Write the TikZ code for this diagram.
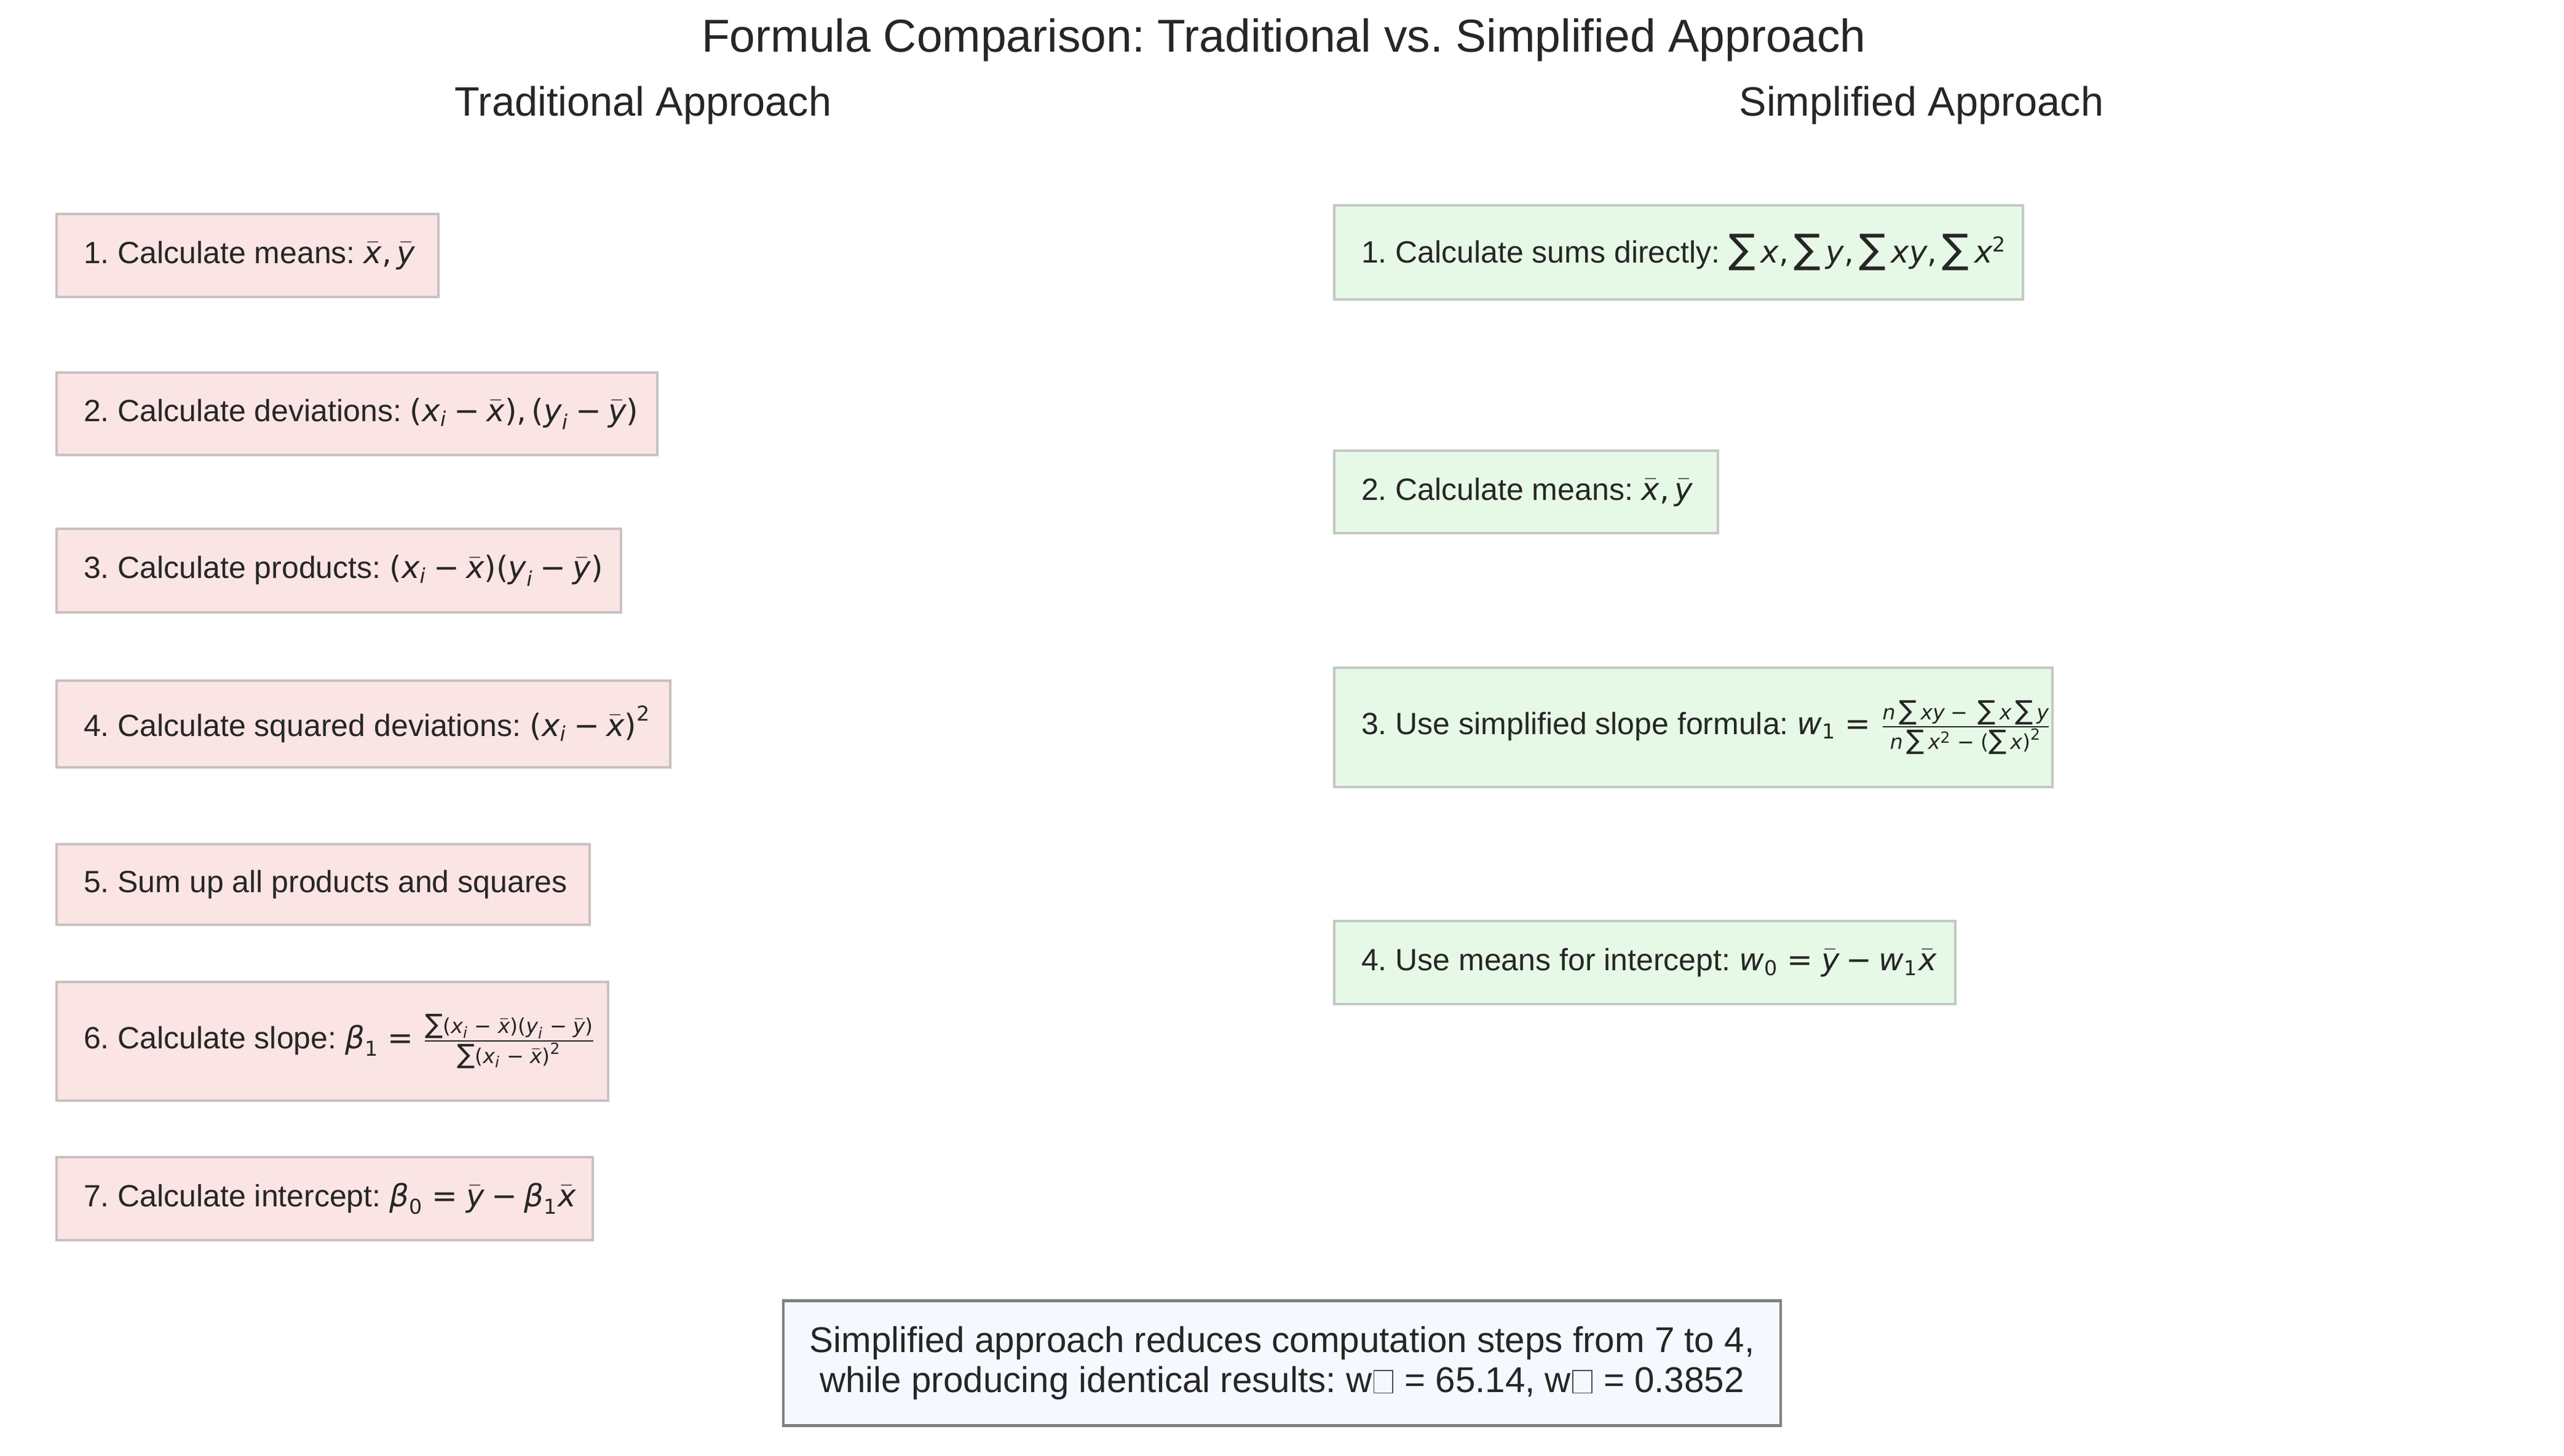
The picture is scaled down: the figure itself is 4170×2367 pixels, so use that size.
\documentclass[tikz,border=0pt]{standalone}
\usepackage{amsmath}
\usepackage{fontspec}
\setmainfont{Liberation Sans}
\newfontfamily\dvs{DejaVu Sans}[ItalicFont={DejaVu Sans Oblique}]
\frenchspacing
\definecolor{txt}{HTML}{262626}
\definecolor{lfill}{HTML}{FBE4E4}
\definecolor{lborder}{HTML}{C9C0C0}
\definecolor{rfill}{HTML}{E6F9E6}
\definecolor{rborder}{HTML}{C3C8C3}
\definecolor{bfill}{HTML}{F5F9FF}
\definecolor{bborder}{HTML}{808080}
\newcommand\mv[1]{\text{\dvs\itshape #1}}
\newcommand\mn[1]{\text{\dvs\upshape #1}}
\newcommand\msum{\mathop{\text{\dvs\upshape\scalebox{1.3}{∑}}}\nolimits}
\newcommand\mminus{\mathbin{\text{\dvs\upshape −}}}
\newcommand\fminus{\mskip5mu\mathord{\text{\dvs\upshape −}}\mskip5mu}
\newcommand\meq{\mathrel{\text{\dvs\upshape =}}}
\newcommand\mcomma{\mathpunct{\text{\dvs\upshape ,}}}
\newcommand\lp{\mathopen{\text{\dvs\upshape (}}}
\newcommand\rp{\mathclose{\text{\dvs\upshape )}}}
\newcommand\xb{\bar{\mv{x}}}
\newcommand\yb{\bar{\mv{y}}}
\newcommand\xsi{\mv{x}_{\mv{i}}}
\newcommand\ysi{\mv{y}_{\mv{i}}}
\newcommand\lt[2]{\makebox[#1][l]{#2}}
\newcommand\tofu{\kern0.04em{\color{black!70}\setlength\fboxsep{0pt}\setlength\fboxrule{0.35pt}\fbox{\rule{0pt}{0.6em}\hspace{0.5em}}}\kern0.04em}
\tikzset{
  x=0.24pt, y=-0.24pt,
  lbox/.style={draw=lborder, fill=lfill, line width=1pt, anchor=north west,
    inner xsep=10.56pt, inner ysep=0pt, font=\fontsize{12}{14.4}\selectfont, text=txt},
  rbox/.style={lbox, draw=rborder, fill=rfill},
  notebox/.style={draw=bborder, fill=bfill, line width=1pt, align=center,
    inner sep=0pt, font=\fontsize{14}{15.6}\selectfont, text=txt},
  ttl/.style={anchor=base, text=txt, inner sep=0pt}
}
\begin{document}
\begin{tikzpicture}
\useasboundingbox (0,0) rectangle (4170,2367);
\node[ttl, font=\fontsize{18}{21.6}\selectfont] (title) at (2088,85) {Formula Comparison: Traditional vs. Simplified Approach};
\node[ttl, font=\fontsize{16}{19.2}\selectfont] (trad) at (1046,189) {Traditional Approach};
\node[ttl, font=\fontsize{16}{19.2}\selectfont] (simp) at (3125,189) {Simplified Approach};

\node[lbox, minimum height=32.4pt] (l1) at (90,346) {\lt{127.92pt}{1. Calculate means: $\xb\mcomma\yb$}};
\node[lbox, minimum height=32.16pt] (l2) at (90,604) {\lt{213.36pt}{2. Calculate deviations: $\lp\xsi\mminus\xb\rp\mcomma\lp\ysi\mminus\yb\rp$}};
\node[lbox, minimum height=32.64pt] (l3) at (90,858) {\lt{199.2pt}{3. Calculate products: $\lp\xsi\mminus\xb\rp\lp\ysi\mminus\yb\rp$}};
\node[lbox, minimum height=33.84pt] (l4) at (90,1105) {\lt{218.4pt}{4. Calculate squared deviations: $\lp\xsi\mminus\xb\rp^{\mn{2}}$}};
\node[lbox, minimum height=31.44pt] (l5) at (90,1371) {\lt{186.96pt}{5. Sum up all products and squares}};
\node[lbox, minimum height=46.32pt] (l6) at (90,1595) {\lt{194.16pt}{6. Calculate slope: $\mv{β}_{\mn{1}}\meq\frac{\msum\lp\xsi\fminus\xb\rp\lp\ysi\fminus\yb\rp}{\msum\lp\xsi\fminus\xb\rp^{\mn{2}}}$}};
\node[lbox, minimum height=32.4pt] (l7) at (90,1880) {\lt{188.16pt}{7. Calculate intercept: $\mv{β}_{\mn{0}}\meq\yb\mminus\mv{β}_{\mn{1}}\xb$}};

\node[rbox, minimum height=36.72pt] (r1) at (2168,332) {\lt{247.68pt}{1. Calculate sums directly: $\msum\mv{x}\mcomma\msum\mv{y}\mcomma\msum\mv{xy}\mcomma\msum\mv{x}^{\mn{2}}$}};
\node[rbox, minimum height=32.16pt] (r2) at (2168,731) {\lt{128.64pt}{2. Calculate means: $\xb\mcomma\yb$}};
\node[rbox, minimum height=46.56pt] (r3) at (2168,1084) {\lt{259.2pt}{3. Use simplified slope formula: $\mv{w}_{\mn{1}}\meq\frac{\mv{n}\msum\mv{xy}\fminus\msum\mv{x}\msum\mv{y}}{\mv{n}\msum\mv{x}^{\mn{2}}\fminus\lp\msum\mv{x}\rp^{\mn{2}}}$}};
\node[rbox, minimum height=32.4pt] (r4) at (2168,1496) {\lt{221.28pt}{4. Use means for intercept: $\mv{w}_{\mn{0}}\meq\yb\mminus\mv{w}_{\mn{1}}\xb$}};

\node[notebox, minimum width=389.3pt, minimum height=48.72pt] (note) at (2085,2217) {Simplified approach reduces computation steps from 7 to 4,\\while producing identical results: w\tofu{} = 65.14, w\tofu{} = 0.3852};
\end{tikzpicture}
\end{document}
